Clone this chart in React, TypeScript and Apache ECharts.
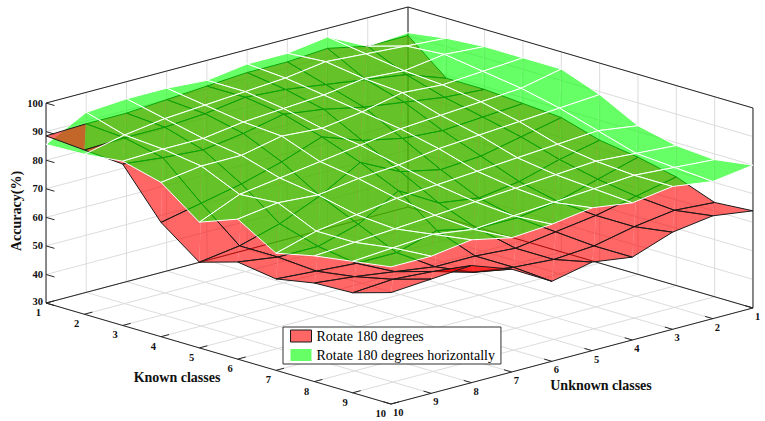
import React, { useEffect, useRef } from "react";
import * as echarts from "echarts";

// ---- data ----
const KNOWN = [1, 2, 3, 4, 5, 6, 7, 8, 9, 10];
const UNKNOWN = [1, 2, 3, 4, 5, 6, 7, 8, 9, 10];
const Z_TICKS = [30, 40, 50, 60, 70, 80, 90, 100];
const SERIES_NAMES = ["Rotate 180 degrees", "Rotate 180 degrees horizontally"];

// rows: known classes 1..10, columns: unknown classes 1..10
const RED: number[][] = [
  [90, 90, 93, 92, 92, 91, 90, 89, 89, 88.5],
  [79, 84, 86, 88, 90, 91, 89, 88, 88, 87.5],
  [79, 80, 82, 84, 87, 89, 86, 84, 85, 86.5],
  [78, 77, 76, 77, 80, 85, 80, 76, 73, 70],
  [77, 74, 71, 70, 73, 80, 72, 66, 62, 60],
  [73, 70, 66, 64, 66, 74, 66, 62, 62, 64],
  [71, 67, 63, 61, 61, 64, 60, 60, 61, 62],
  [68, 65, 62, 60, 58, 59, 59, 61, 63, 64.5],
  [63, 64, 62, 59, 58, 59, 61, 65, 66, 65],
  [64, 66, 64, 59, 61, 58, 66, 71, 70, 69],
];
const GREEN: number[][] = [
  [91, 90, 97, 95, 95, 93, 94, 94, 93, 85.5],
  [93, 94, 95, 96, 94, 93, 92, 91, 89, 86],
  [94, 95, 93, 94, 92, 91, 90, 88, 88, 87.5],
  [94, 93, 92, 93, 90, 88, 89, 86, 86, 84],
  [94, 91, 90, 89, 88, 86, 84, 82, 80, 74],
  [89, 88, 87, 86, 85, 83, 82, 80, 81, 79],
  [82, 84, 83, 82, 81, 80, 79, 77, 75, 71],
  [79, 80, 81, 80, 79, 78, 77, 76, 75, 74],
  [78, 79, 80, 79, 78, 77, 76, 78, 77, 76],
  [80, 78, 80, 78, 80, 78, 77, 80, 78, 78],
];

// ---- view (orthographic projection of the 3D box) ----
const ORIGIN = { x: 408, y: 207 }; // known=1, unknown=1, z=min
const K_VEC = { x: 38.33, y: 11.22 }; // per known step
const U_VEC = { x: -40.22, y: 10.67 }; // per unknown step
const Z_PX = 2.857; // px per accuracy unit
const NEAR = { k: 38.6, u: 36.8, z: 0.83 }; // depth weights (toward viewer)

const Z_MIN = Z_TICKS[0];
const Z_MAX = Z_TICKS[Z_TICKS.length - 1];
const K0 = KNOWN[0], K1 = KNOWN[KNOWN.length - 1];
const U0 = UNKNOWN[0], U1 = UNKNOWN[UNKNOWN.length - 1];

function proj(k: number, u: number, z: number): number[] {
  const a = k - K0;
  const b = u - U0;
  return [
    ORIGIN.x + a * K_VEC.x + b * U_VEC.x,
    ORIGIN.y + a * K_VEC.y + b * U_VEC.y - (z - Z_MIN) * Z_PX,
  ];
}

const FONT = "Liberation Serif";
const GRID_C = "#dcdcdc";
const EDGE_C = "#262626";

function buildFrame(): any[] {
  const els: any[] = [];
  const L = (p: number[], q: number[], stroke: string, w = 1) =>
    els.push({
      type: "line",
      silent: true,
      shape: { x1: p[0], y1: p[1], x2: q[0], y2: q[1] },
      style: { stroke, lineWidth: w },
    });
  // back-left wall (known = 1)
  UNKNOWN.forEach((u) => L(proj(K0, u, Z_MIN), proj(K0, u, Z_MAX), GRID_C));
  Z_TICKS.forEach((z) => L(proj(K0, U0, z), proj(K0, U1, z), GRID_C));
  // back-right wall (unknown = 1)
  KNOWN.forEach((k) => L(proj(k, U0, Z_MIN), proj(k, U0, Z_MAX), GRID_C));
  Z_TICKS.forEach((z) => L(proj(K0, U0, z), proj(K1, U0, z), GRID_C));
  // floor
  KNOWN.forEach((k) => L(proj(k, U0, Z_MIN), proj(k, U1, Z_MIN), GRID_C));
  UNKNOWN.forEach((u) => L(proj(K0, u, Z_MIN), proj(K1, u, Z_MIN), GRID_C));
  // box edges
  L(proj(K0, U1, Z_MIN), proj(K0, U1, Z_MAX), EDGE_C);
  L(proj(K0, U0, Z_MIN), proj(K0, U0, Z_MAX), EDGE_C);
  L(proj(K1, U0, Z_MIN), proj(K1, U0, Z_MAX), EDGE_C);
  L(proj(K0, U0, Z_MAX), proj(K0, U1, Z_MAX), EDGE_C);
  L(proj(K0, U0, Z_MAX), proj(K1, U0, Z_MAX), EDGE_C);
  L(proj(K0, U0, Z_MIN), proj(K0, U1, Z_MIN), EDGE_C);
  L(proj(K0, U0, Z_MIN), proj(K1, U0, Z_MIN), EDGE_C);
  L(proj(K0, U1, Z_MIN), proj(K1, U1, Z_MIN), EDGE_C);
  L(proj(K1, U0, Z_MIN), proj(K1, U1, Z_MIN), EDGE_C);

  const txt = (x: number, y: number, text: string, align: string, size = 10.5, rot = 0) =>
    els.push({
      type: "text",
      silent: true,
      x,
      y,
      rotation: rot,
      style: {
        text,
        x: 0,
        y: 0,
        fill: "#111",
        fontFamily: FONT,
        fontSize: size,
        fontWeight: "bold",
        textAlign: align,
        textVerticalAlign: "middle",
      },
    });

  // z ticks + labels
  Z_TICKS.forEach((z) => {
    const p = proj(K0, U1, z);
    const q = proj(K0 + 0.22, U1, z);
    L(p, q, EDGE_C);
    txt(p[0] - 3, z === Z_MIN ? p[1] - 2 : p[1], String(z), "right");
  });
  // known ticks + labels
  KNOWN.forEach((k) => {
    const p = proj(k, U1, Z_MIN);
    const q = proj(k, U1 - 0.2, Z_MIN);
    L(p, q, EDGE_C);
    txt(p[0] - 5, p[1] + 9.5, String(k), "right");
  });
  // unknown ticks + labels
  UNKNOWN.forEach((u) => {
    const p = proj(K1, u, Z_MIN);
    const q = proj(K1 - 0.2, u, Z_MIN);
    L(p, q, EDGE_C);
    txt(p[0] + 2, p[1] + 8.5, String(u), "left");
  });
  // axis titles
  txt(177, 377, "Known classes", "center", 14);
  txt(601, 385, "Unknown classes", "center", 14);
  txt(16, 211, "Accuracy(%)", "center", 14, Math.PI / 2);
  return els;
}

// painter's order for all triangles of both surfaces
const SURFACES = [RED, GREEN];
const faceLists: number[][][] = [[], []];
(() => {
  const all: { s: number; i: number; j: number; t: number; d: number }[] = [];
  SURFACES.forEach((Z, s) => {
    for (let i = 0; i < KNOWN.length - 1; i++) {
      for (let j = 0; j < UNKNOWN.length - 1; j++) {
        // t=0: (i,j),(i,j+1),(i+1,j+1); t=1: (i,j),(i+1,j),(i+1,j+1)
        const za = (Z[i][j] + Z[i][j + 1] + Z[i + 1][j + 1]) / 3;
        const zb = (Z[i][j] + Z[i + 1][j] + Z[i + 1][j + 1]) / 3;
        all.push({ s, i, j, t: 0, d: NEAR.k * (i + 1 / 3) + NEAR.u * (j + 2 / 3) + NEAR.z * (za - Z_MIN) });
        all.push({ s, i, j, t: 1, d: NEAR.k * (i + 2 / 3) + NEAR.u * (j + 1 / 3) + NEAR.z * (zb - Z_MIN) });
      }
    }
  });
  all.sort((a, b) => a.d - b.d);
  all.forEach((f, rank) => faceLists[f.s].push([f.i, f.j, f.t, rank]));
})();

const FILLS = ["rgba(255,0,0,0.6)", "rgba(0,255,0,0.6)"];
const STROKES = ["#1a1a1a", "#ffffff"];

function makeRender(s: number) {
  const Z = SURFACES[s];
  const P = (i: number, j: number) => proj(KNOWN[i], UNKNOWN[j], Z[i][j]);
  return (_params: any, api: any) => {
    const i = api.value(0) as number;
    const j = api.value(1) as number;
    const t = api.value(2) as number;
    const rank = api.value(3) as number;
    const tri =
      t === 0 ? [P(i, j), P(i, j + 1), P(i + 1, j + 1)] : [P(i, j), P(i + 1, j), P(i + 1, j + 1)];
    return {
      type: "group",
      children: [
        {
          type: "polygon",
          z2: rank * 2,
          shape: { points: tri },
          style: { fill: FILLS[s], stroke: null, lineWidth: 0 },
        },
        {
          type: "polyline",
          z2: rank * 2 + 1,
          shape: { points: tri },
          style: { fill: null, stroke: STROKES[s], lineWidth: 1, lineJoin: "round" },
        },
      ],
    };
  };
}

export default function App() {
  const ref = useRef<HTMLDivElement>(null);
  useEffect(() => {
    if (!ref.current) return;
    const chart = echarts.init(ref.current, undefined, { renderer: "svg" });
    chart.setOption({
      animation: false,
      backgroundColor: "#ffffff",
      graphic: { elements: buildFrame() },
      legend: {
        left: 283,
        top: 327,
        orient: "vertical",
        itemWidth: 21,
        itemHeight: 12,
        itemGap: 5,
        padding: [2, 6, 2, 7],
        borderColor: "#333",
        borderWidth: 1,
        borderRadius: 0,
        backgroundColor: "#ffffff",
        selectedMode: false,
        textStyle: { fontFamily: FONT, fontSize: 14, color: "#000" },
        data: [
          { name: SERIES_NAMES[0], icon: "rect", itemStyle: { color: "#ff6666", borderColor: "#1a1a1a", borderWidth: 1 } },
          { name: SERIES_NAMES[1], icon: "rect", itemStyle: { color: "#66ff66", borderColor: "#ffffff", borderWidth: 0 } },
        ],
      },
      series: [0, 1].map((s) => ({
        type: "custom",
        name: SERIES_NAMES[s],
        coordinateSystem: "none",
        silent: true,
        itemStyle: { color: FILLS[s] },
        renderItem: makeRender(s),
        data: faceLists[s],
      })),
    });
    return () => chart.dispose();
  }, []);
  return (
    <div
      ref={ref}
      style={{ position: "fixed", left: 0, top: 0, width: 765, height: 421, background: "#fff" }}
    />
  );
}
